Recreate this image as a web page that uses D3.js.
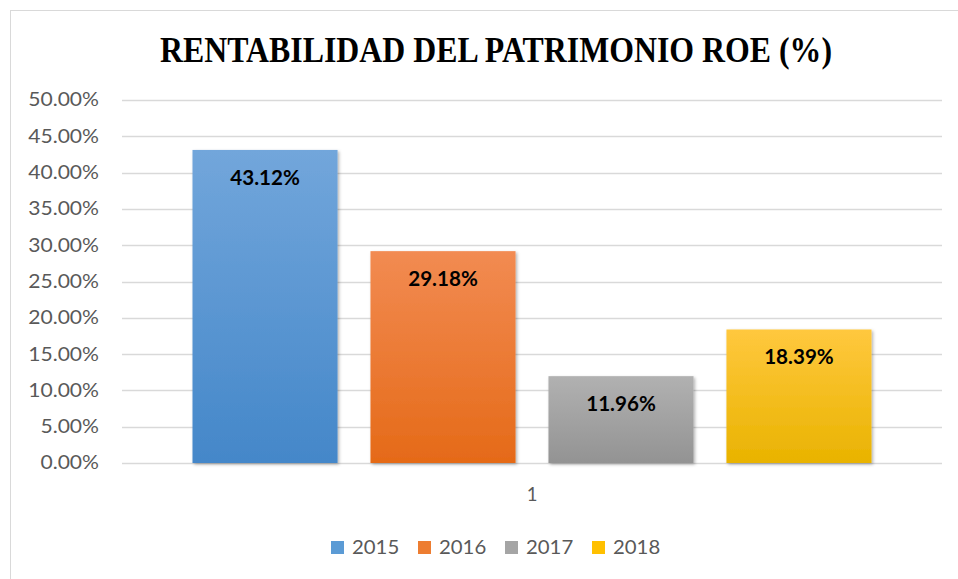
<!DOCTYPE html>
<html>
<head>
<meta charset="utf-8">
<script src="https://cdn.jsdelivr.net/npm/d3@7"></script>
<style>
  body { margin: 0; background: #fff; }
</style>
</head>
<body>
<script>
'use strict';

// Data
var category = ["1"];
var years = ["2015", "2016", "2017", "2018"];
var roe = [43.12, 29.18, 11.96, 18.39];
var yTicks = [0, 5, 10, 15, 20, 25, 30, 35, 40, 45, 50];
var colorTop = ["#72a6db", "#f28b52", "#b1b1b1", "#ffc83e"];
var colorBottom = ["#4487c9", "#e56a18", "#939393", "#e9b300"];
var legendColors = ["#5b9bd5", "#ed7d31", "#a5a5a5", "#ffc000"];

var width = 958, height = 579;
var plot = { left: 122, right: 942, top: 100, bottom: 463 };
var font = "Lato, 'Open Sans', sans-serif";

var svg = d3.select("body").append("svg")
    .attr("width", width)
    .attr("height", height);

// widen text a bit (the original font is wider than Lato)
function stretch(sel, k) {
  sel.each(function() {
    var w = this.getComputedTextLength();
    d3.select(this).attr("textLength", w * k).attr("lengthAdjust", "spacingAndGlyphs");
  });
}

// gradients + shadow
var defs = svg.append("defs");
years.forEach(function(y, i) {
  var g = defs.append("linearGradient")
      .attr("id", "grad" + i)
      .attr("x1", 0).attr("y1", 0).attr("x2", 0).attr("y2", 1);
  g.append("stop").attr("offset", "0%").attr("stop-color", colorTop[i]);
  g.append("stop").attr("offset", "100%").attr("stop-color", colorBottom[i]);
});
var f = defs.append("filter").attr("id", "shadow")
    .attr("x", "-10%").attr("y", "-10%").attr("width", "130%").attr("height", "130%");
f.append("feDropShadow").attr("dx", 1.5).attr("dy", 1.5).attr("stdDeviation", 1.5)
    .attr("flood-color", "#000").attr("flood-opacity", 0.3);

// chart frame
svg.append("rect")
    .attr("x", 10.5).attr("y", 10.5)
    .attr("width", 960).attr("height", 600)
    .attr("fill", "#fff")
    .attr("stroke", "#d9d9d9");

// title
svg.append("text")
    .attr("x", 496).attr("y", 62)
    .attr("text-anchor", "middle")
    .attr("font-family", "'Liberation Serif', 'Times New Roman', serif")
    .attr("font-weight", "bold")
    .attr("font-size", 36)
    .attr("textLength", 672)
    .attr("lengthAdjust", "spacingAndGlyphs")
    .attr("fill", "#000")
    .text("RENTABILIDAD DEL PATRIMONIO ROE (%)");

var y = d3.scaleLinear().domain([0, 50]).range([plot.bottom, plot.top]);
var x0 = d3.scaleBand().domain(category).range([plot.left, plot.right]);
var x1 = d3.scaleBand().domain(years)
    .range([x0("1") + 70.5, x0("1") + x0.bandwidth() - 70.5])
    .paddingInner(0.185);

// gridlines
svg.append("g")
    .selectAll("line")
    .data(yTicks)
    .enter().append("line")
    .attr("x1", plot.left).attr("x2", plot.right)
    .attr("y1", function(d) { return Math.round(y(d)) + 0.5; })
    .attr("y2", function(d) { return Math.round(y(d)) + 0.5; })
    .attr("stroke", "#d9d9d9")
    .attr("stroke-width", 1.3);

// y axis labels
var yAxis = d3.axisLeft(y)
    .tickValues(yTicks)
    .tickSize(0)
    .tickPadding(0)
    .tickFormat(function(d) { return d.toFixed(2) + "%"; });
var ya = svg.append("g")
    .attr("transform", "translate(99,0)")
    .call(yAxis);
ya.select(".domain").remove();
ya.selectAll("text")
    .attr("font-family", font)
    .attr("font-size", 18.5)
    .attr("fill", "#595959")
    .call(stretch, 1.14);

// bars
svg.append("g")
    .selectAll("rect")
    .data(roe)
    .enter().append("rect")
    .attr("x", function(d, i) { return x1(years[i]); })
    .attr("y", function(d) { return y(d); })
    .attr("width", x1.bandwidth())
    .attr("height", function(d) { return y(0) - y(d); })
    .attr("fill", function(d, i) { return "url(#grad" + i + ")"; })
    .attr("filter", "url(#shadow)");

// value labels
svg.append("g")
    .selectAll("text")
    .data(roe)
    .enter().append("text")
    .attr("x", function(d, i) { return x1(years[i]) + x1.bandwidth() / 2; })
    .attr("y", function(d) { return y(d) + 35; })
    .attr("text-anchor", "middle")
    .attr("font-family", font)
    .attr("font-weight", "bold")
    .attr("font-size", 20)
    .attr("fill", "#000")
    .text(function(d) { return d.toFixed(2) + "%"; })
    .call(stretch, 1.03);

// category label
var xAxis = d3.axisBottom(x0).tickSize(0).tickPadding(0);
var xa = svg.append("g")
    .attr("transform", "translate(0,495)")
    .call(xAxis);
xa.select(".domain").remove();
xa.selectAll("text")
    .attr("font-family", font)
    .attr("font-size", 18.5)
    .attr("fill", "#595959")
    .attr("dy", "0.35em");

// legend
var legend = svg.append("g")
    .selectAll("g")
    .data(years)
    .enter().append("g")
    .attr("transform", function(d, i) { return "translate(" + (331 + i * 87) + ",541)"; });
legend.append("rect")
    .attr("width", 13).attr("height", 13)
    .attr("fill", function(d, i) { return legendColors[i]; });
legend.append("text")
    .attr("x", 21).attr("y", 7)
    .attr("dy", "0.35em")
    .attr("font-family", font)
    .attr("font-size", 18.5)
    .attr("fill", "#595959")
    .text(function(d) { return d; })
    .call(stretch, 1.1);
</script>
</body>
</html>
